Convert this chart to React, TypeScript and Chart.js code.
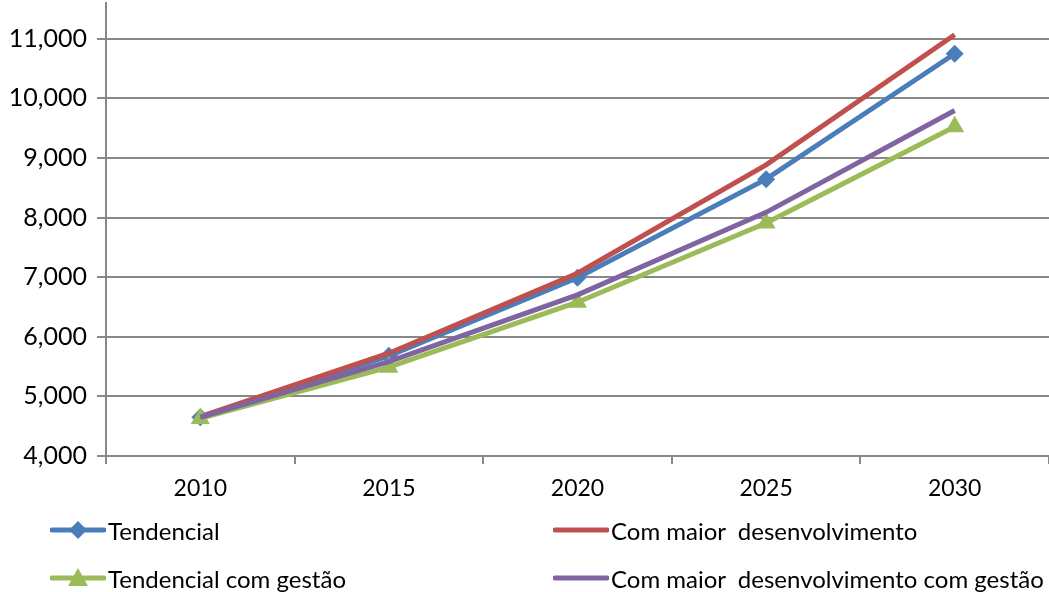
import React, { useEffect, useRef } from "react";
import { Chart, registerables } from "chart.js";

Chart.register(...registerables);

const years = ["2010", "2015", "2020", "2025", "2030"];
const tendencial = [4650, 5680, 6990, 8645, 10748];
const comMaior = [4660, 5724, 7067, 8885, 11067];
const tendencialGestao = [4630, 5490, 6580, 7910, 9523];
const comMaiorGestao = [4650, 5583, 6703, 8088, 9796];
const yTickValues = [4000, 5000, 6000, 7000, 8000, 9000, 10000, 11000];

const seriesNames = [
  "Tendencial",
  "Com maior  desenvolvimento",
  "Tendencial com gestão",
  "Com maior  desenvolvimento com gestão",
];
const colors = ["#4A7EBB", "#C0504D", "#9BBB59", "#8064A2"];
const FONT = "Lato, 'Open Sans', sans-serif";
const GRID = "#888888";

function LegendItem({ x, y, color, label, marker }: { x: number; y: number; color: string; label: string; marker: string }) {
  return (
    <div style={{ position: "absolute", left: x, top: y - 15, height: 30, display: "flex", alignItems: "center" }}>
      <svg width={56} height={28} style={{ display: "block" }}>
        <line x1={2} y1={14} x2={54} y2={14} stroke={color} strokeWidth={5} strokeLinecap="round" />
        {marker === "diamond" && <polygon points="28,5 37,14 28,23 19,14" fill={color} />}
        {marker === "triangle" && <polygon points="28,4 38,22 18,22" fill={color} />}
      </svg>
      <span style={{ fontFamily: FONT, fontSize: 24, color: "#000", marginLeft: 2, whiteSpace: "pre" }}>{label}</span>
    </div>
  );
}

export default function App() {
  const ref = useRef<HTMLCanvasElement | null>(null);
  useEffect(() => {
    if (!ref.current) return;
    const chart = new Chart(ref.current, {
      type: "line",
      data: {
        labels: years,
        datasets: [
          { label: seriesNames[0], data: tendencial, borderColor: colors[0], backgroundColor: colors[0], borderWidth: 5, pointStyle: "rectRot", pointRadius: 9, pointBorderWidth: 0, tension: 0, order: 4 },
          { label: seriesNames[1], data: comMaior, borderColor: colors[1], backgroundColor: colors[1], borderWidth: 5, pointRadius: 0, tension: 0, order: 3 },
          { label: seriesNames[2], data: tendencialGestao, borderColor: colors[2], backgroundColor: colors[2], borderWidth: 5, pointStyle: "triangle", pointRadius: 11, pointBorderWidth: 0, tension: 0, order: 2 },
          { label: seriesNames[3], data: comMaiorGestao, borderColor: colors[3], backgroundColor: colors[3], borderWidth: 5, pointRadius: 0, tension: 0, order: 1 },
        ],
      },
      options: {
        animation: false,
        responsive: false,
        maintainAspectRatio: false,
        layout: { padding: { left: 0, top: 0, right: 3, bottom: 88 } },
        plugins: { legend: { display: false }, tooltip: { enabled: false } },
        scales: {
          x: {
            offset: true,
            grid: { offset: true, drawOnChartArea: false, drawTicks: true, tickLength: 8, color: GRID, lineWidth: 2 },
            border: { display: true, color: GRID, width: 2 },
            ticks: { color: "#000", font: { family: FONT, size: 23 }, padding: 11, maxRotation: 0 },
            afterFit: (s: any) => { s.height = 48; s.paddingLeft = 0; s.paddingRight = 0; },
          },
          y: {
            min: 4000,
            max: 11600,
            afterBuildTicks: (s: any) => { s.ticks = yTickValues.map((v) => ({ value: v })); },
            afterFit: (s: any) => { s.width = 106; s.paddingTop = 0; s.paddingBottom = 0; },
            grid: { color: GRID, lineWidth: 2, tickLength: 9, drawTicks: true },
            border: { display: true, color: GRID, width: 2 },
            ticks: {
              color: "#000",
              font: { family: FONT, size: 25 },
              padding: 10,
              callback: (v: any) => Number(v).toLocaleString("en-US"),
            },
          },
        },
      },
    });
    return () => chart.destroy();
  }, []);

  return (
    <div style={{ position: "fixed", left: 0, top: 0, width: 1049, height: 592, overflow: "hidden", background: "#fff" }}>
      <canvas ref={ref} width={1060} height={600} style={{ position: "absolute", left: 0, top: -8, width: 1060, height: 600 }} />
      <LegendItem x={50} y={530} color={colors[0]} label={seriesNames[0]} marker="diamond" />
      <LegendItem x={553} y={530} color={colors[1]} label={seriesNames[1]} marker="none" />
      <LegendItem x={50} y={578} color={colors[2]} label={seriesNames[2]} marker="triangle" />
      <LegendItem x={553} y={578} color={colors[3]} label={seriesNames[3]} marker="none" />
    </div>
  );
}
